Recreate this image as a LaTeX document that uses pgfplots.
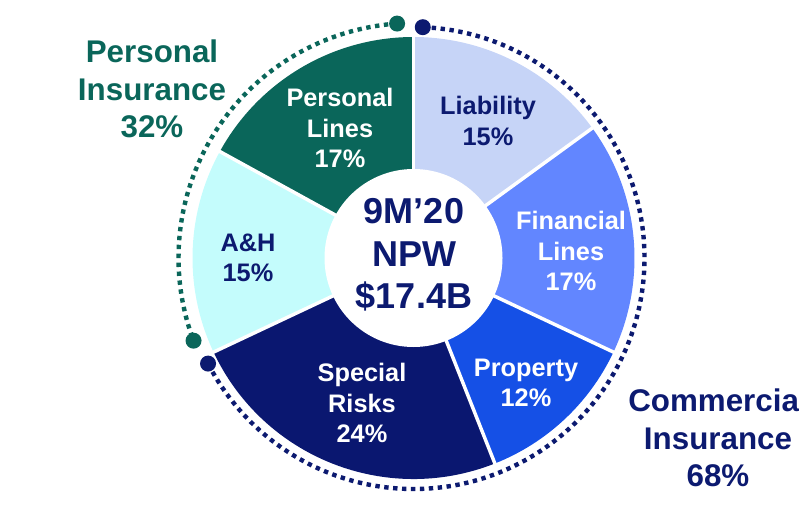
\documentclass[border=0pt]{standalone}
\usepackage{pgfplots}
\pgfplotsset{compat=1.18}
\usepackage{fontspec}
\setmainfont{Liberation Sans}
\definecolor{cLiab}{HTML}{C6D4F7}
\definecolor{cFin}{HTML}{6286FF}
\definecolor{cProp}{HTML}{1550E6}
\definecolor{cSpec}{HTML}{0A1770}
\definecolor{cAH}{HTML}{C4FCFC}
\definecolor{cPers}{HTML}{0A665A}
\definecolor{cNavy}{HTML}{0C1A70}
\definecolor{cTeal}{HTML}{0A665A}
\def\R{165.75pt}
\begin{document}
\begin{tikzpicture}[sl/.style={align=center, inner sep=0pt, font=\bfseries\fontsize{19}{23}\selectfont}]
\begin{axis}[
  x=0.75pt, y=0.75pt,
  xmin=-413.5, xmax=385.5, ymin=-250, ymax=258,
  hide axis, clip=false,
]
% shares (percent), clockwise from 12 o'clock:
% Liability 15, Financial Lines 17, Property 12, Special Risks 24, A&H 15, Personal Lines 17
\fill[cLiab] (axis cs:0,0) -- +(90:\R) arc[start angle=90, delta angle={-3.6*15}, radius=\R] -- cycle;
\fill[cFin]  (axis cs:0,0) -- +(36:\R) arc[start angle=36, delta angle={-3.6*17}, radius=\R] -- cycle;
\fill[cProp] (axis cs:0,0) -- +(-25.2:\R) arc[start angle=-25.2, delta angle={-3.6*12}, radius=\R] -- cycle;
\fill[cSpec] (axis cs:0,0) -- +(-68.4:\R) arc[start angle=-68.4, delta angle={-3.6*24}, radius=\R] -- cycle;
\fill[cAH]   (axis cs:0,0) -- +(-154.8:\R) arc[start angle=-154.8, delta angle={-3.6*15}, radius=\R] -- cycle;
\fill[cPers] (axis cs:0,0) -- +(-208.8:\R) arc[start angle=-208.8, delta angle={-3.6*17}, radius=\R] -- cycle;
% white separators
\pgfplotsinvokeforeach{90,36,-25.2,-68.4,-154.8,-208.8}{
  \draw[white, line width=2.6pt] (axis cs:0,0) -- +(#1:168pt);
}
\fill[white] (axis cs:0,0) circle[radius=66.75pt];
% dotted group rings
\draw[cTeal, line width=3.3pt, dash pattern=on 3.3pt off 3.4pt] (axis cs:0,0) ++(94:176.25pt) arc[start angle=94, end angle=200.6, radius=176.25pt];
\fill[cTeal] (axis cs:0,0) ++(94:176.25pt) circle[radius=6pt];
\fill[cTeal] (axis cs:0,0) ++(200.6:176.25pt) circle[radius=6pt];
\draw[cNavy, line width=3.3pt, dash pattern=on 3.3pt off 3.4pt] (axis cs:0,0) ++(87.7:173.25pt) arc[start angle=87.7, end angle=-152.8, radius=173.25pt];
\fill[cNavy] (axis cs:0,0) ++(87.7:173.25pt) circle[radius=6pt];
\fill[cNavy] (axis cs:0,0) ++(-152.8:173.25pt) circle[radius=6pt];
% slice labels
\node[sl, text=white] at (axis cs:-73.5,130) {Personal\\Lines\\17\%};
\node[sl, text=cNavy] at (axis cs:74.5,137) {Liability\\15\%};
\node[sl, text=white] at (axis cs:157.5,7) {Financial\\Lines\\17\%};
\node[sl, text=white] at (axis cs:112.5,-125) {Property\\12\%};
\node[sl, text=white] at (axis cs:-51.5,-145) {Special\\Risks\\24\%};
\node[sl, text=cNavy] at (axis cs:-165.5,0) {A\&H\\15\%};
\node[align=center, inner sep=0pt, text=cNavy, font=\bfseries\fontsize{27}{32}\selectfont] at (axis cs:0.5,3) {9M’20\\NPW\\\$17.4B};
\node[align=center, inner sep=0pt, text=cTeal, font=\bfseries\fontsize{23.5}{28}\selectfont] at (axis cs:-261.5,169) {Personal\\Insurance\\32\%};
\node[align=center, inner sep=0pt, text=cNavy, font=\bfseries\fontsize{23.5}{28}\selectfont] at (axis cs:304.5,-180) {Commercial\\Insurance\\68\%};
\end{axis}
\pgfresetboundingbox
\path[use as bounding box] (current axis.south west) rectangle (current axis.north east);
\end{tikzpicture}
\end{document}
